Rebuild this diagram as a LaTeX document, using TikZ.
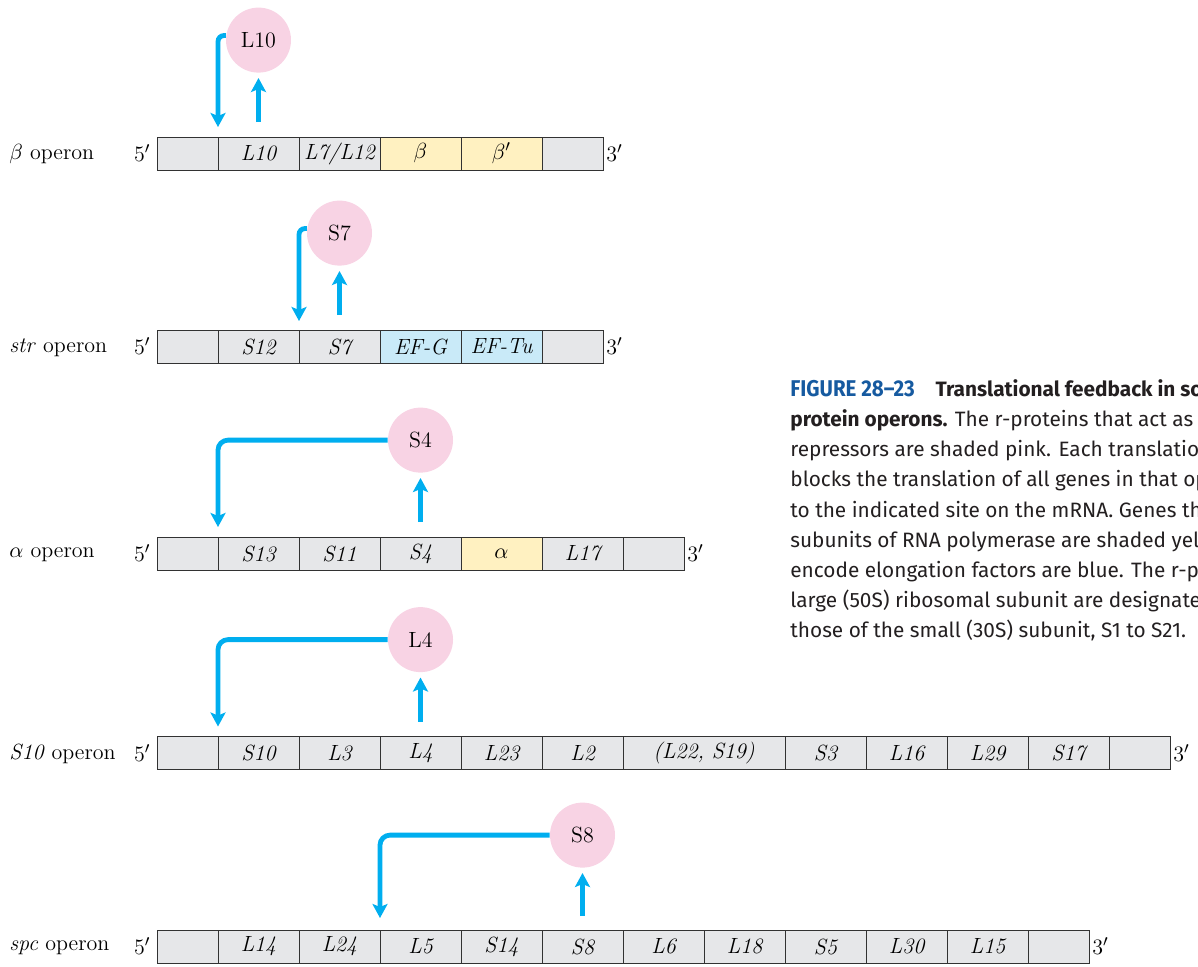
\documentclass[tikz,border=0pt]{standalone}
\usepackage{fontspec}
\usepackage{graphicx}
\usepackage{tikz}
\usetikzlibrary{positioning,arrows.meta}

\newfontfamily\capfont{Fira Sans}

\definecolor{genegray}{RGB}{230,231,233}
\definecolor{geneyellow}{RGB}{255,241,193}
\definecolor{geneblue}{RGB}{201,234,248}
\definecolor{reppink}{RGB}{248,211,228}
\definecolor{arrowcyan}{RGB}{0,174,239}
\definecolor{boxline}{RGB}{50,50,50}
\definecolor{capblue}{RGB}{22,90,160}
\definecolor{captext}{RGB}{35,31,32}

\tikzset{
  gene/.style={draw=boxline, line width=0.5pt, fill=genegray, minimum width=40.5pt,
    minimum height=16.5pt, inner sep=0pt, outer sep=0pt,
    font=\fontsize{11}{13}\selectfont\itshape},
  endbox/.style={gene, minimum width=30.5pt},
  widebox/.style={gene, minimum width=81pt},
  polgene/.style={gene, fill=geneyellow},
  efgene/.style={gene, fill=geneblue},
  repressor/.style={circle, fill=reppink, minimum size=32.5pt, inner sep=0pt,
    font=\fontsize{11}{13}\selectfont},
  feedback/.style={arrowcyan, line width=2.4pt,
    -{Stealth[length=7pt,width=7.5pt,inset=1.5pt]}},
  oplabel/.style={anchor=west, inner sep=0pt, font=\fontsize{11}{13}\selectfont},
  endlabel/.style={inner sep=0pt, font=\fontsize{11}{13}\selectfont},
  caption/.style={align=left, inner sep=0pt, text=captext,
    font=\capfont\fontsize{10.4}{15.1}\selectfont},
}

\begin{document}
\begin{tikzpicture}[x=0.5pt, y=-0.5pt]
  \useasboundingbox (0,0) rectangle (1198,966);
  \clip (0,0) rectangle (1198,966);

  % beta operon
  \node[oplabel] (bname) at (9,154.5) {$\beta$ operon};
  \node[endbox, anchor=west] (b0) at (157,153.5) {};
  \node[gene, right=0pt of b0] (bL10) {L10};
  \node[gene, right=0pt of bL10] (bL7) {L7/L12};
  \node[polgene, right=0pt of bL7] (bbeta) {$\beta$};
  \node[polgene, right=0pt of bbeta] (bbetap) {$\beta'$};
  \node[endbox, right=0pt of bbetap] (b9) {};
  \node[endlabel, left=3pt of b0] (b5) {5$'$};
  \node[endlabel, right=1.5pt of b9] (b3) {3$'$};
  \node[repressor, above=32pt of bL10] (rL10) {L10};
  \draw[feedback, rounded corners=3pt] (rL10.172) -| ([yshift=5pt]b0.north east);
  \draw[feedback] ([yshift=7.5pt]bL10.north) -- ([yshift=-2.5pt]rL10.south);

  % str operon
  \node[oplabel] (sname) at (9,347.5) {\textit{str} operon};
  \node[endbox, anchor=west] (s0) at (157,346.5) {};
  \node[gene, right=0pt of s0] (sS12) {S12};
  \node[gene, right=0pt of sS12] (sS7) {S7};
  \node[efgene, right=0pt of sS7] (sEFG) {EF-G};
  \node[efgene, right=0pt of sEFG] (sEFTu) {EF-Tu};
  \node[endbox, right=0pt of sEFTu] (s9) {};
  \node[endlabel, left=3pt of s0] (s5) {5$'$};
  \node[endlabel, right=1.5pt of s9] (s3) {3$'$};
  \node[repressor, above=32pt of sS7] (rS7) {S7};
  \draw[feedback, rounded corners=3pt] (rS7.172) -| ([yshift=4.5pt]sS12.north east);
  \draw[feedback] ([yshift=7.5pt]sS7.north) -- ([yshift=-2.5pt]rS7.south);

  % alpha operon
  \node[oplabel] (aname) at (9,554.5) {$\alpha$ operon};
  \node[endbox, anchor=west] (a0) at (157,553.5) {};
  \node[gene, right=0pt of a0] (aS13) {S13};
  \node[gene, right=0pt of aS13] (aS11) {S11};
  \node[gene, right=0pt of aS11] (aS4) {S4};
  \node[polgene, right=0pt of aS4] (aalpha) {$\alpha$};
  \node[gene, right=0pt of aalpha] (aL17) {L17};
  \node[endbox, right=0pt of aL17] (a9) {};
  \node[endlabel, left=3pt of a0] (a5) {5$'$};
  \node[endlabel, right=1.5pt of a9] (a3) {3$'$};
  \node[repressor, above=32pt of aS4] (rS4) {S4};
  \draw[feedback, rounded corners=5pt] (rS4.west) -| ([yshift=5pt]a0.north east);
  \draw[feedback] ([yshift=7.5pt]aS4.north) -- ([yshift=-2.5pt]rS4.south);

  % S10 operon
  \node[oplabel] (tname) at (9,754) {\textit{S10} operon};
  \node[endbox, anchor=west] (t0) at (157,753) {};
  \node[gene, right=0pt of t0] (tS10) {S10};
  \node[gene, right=0pt of tS10] (tL3) {L3};
  \node[gene, right=0pt of tL3] (tL4) {L4};
  \node[gene, right=0pt of tL4] (tL23) {L23};
  \node[gene, right=0pt of tL23] (tL2) {L2};
  \node[widebox, right=0pt of tL2] (tL22) {(L22, S19)};
  \node[gene, right=0pt of tL22] (tS3) {S3};
  \node[gene, right=0pt of tS3] (tL16) {L16};
  \node[gene, right=0pt of tL16] (tL29) {L29};
  \node[gene, right=0pt of tL29] (tS17) {S17};
  \node[endbox, right=0pt of tS17] (t9) {};
  \node[endlabel, left=3pt of t0] (t5) {5$'$};
  \node[endlabel, right=1.5pt of t9] (t3) {3$'$};
  \node[repressor, above=32pt of tL4] (rL4) {L4};
  \draw[feedback, rounded corners=5pt] (rL4.west) -| ([yshift=5pt]t0.north east);
  \draw[feedback] ([yshift=7.5pt]tL4.north) -- ([yshift=-2.5pt]rL4.south);

  % spc operon
  \node[oplabel] (pname) at (9,947.5) {\textit{spc} operon};
  \node[endbox, anchor=west] (p0) at (157,946.5) {};
  \node[gene, right=0pt of p0] (pL14) {L14};
  \node[gene, right=0pt of pL14] (pL24) {L24};
  \node[gene, right=0pt of pL24] (pL5) {L5};
  \node[gene, right=0pt of pL5] (pS14) {S14};
  \node[gene, right=0pt of pS14] (pS8) {S8};
  \node[gene, right=0pt of pS8] (pL6) {L6};
  \node[gene, right=0pt of pL6] (pL18) {L18};
  \node[gene, right=0pt of pL18] (pS5) {S5};
  \node[gene, right=0pt of pS5] (pL30) {L30};
  \node[gene, right=0pt of pL30] (pL15) {L15};
  \node[endbox, right=0pt of pL15] (p9) {};
  \node[endlabel, left=3pt of p0] (p5) {5$'$};
  \node[endlabel, right=1.5pt of p9] (p3) {3$'$};
  \node[repressor, above=31pt of pS8] (rS8) {S8};
  \draw[feedback, rounded corners=5pt] (rS8.west) -| ([yshift=6pt]pL24.north east);
  \draw[feedback] ([yshift=7pt]pS8.north) -- ([yshift=-2.5pt]rS8.south);

  % legend
  \node[caption, anchor=north west] (cap) at (790,379) {%
    {\color{capblue}\bfseries\fontsize{11.4}{15.1}\selectfont\scalebox{0.9}[1]{FIGURE 28–23}}\hspace{1em}\textbf{Translational feedback in some}\\
    \textbf{protein operons.} The r-proteins that act as translational\\
    repressors are shaded pink. Each translational\\
    blocks the translation of all genes in that operon\\
    to the indicated site on the mRNA. Genes that\\
    subunits of RNA polymerase are shaded yellow;\\
    encode elongation factors are blue. The r-proteins\\
    large (50S) ribosomal subunit are designated\\
    those of the small (30S) subunit, S1 to S21.};
\end{tikzpicture}
\end{document}
